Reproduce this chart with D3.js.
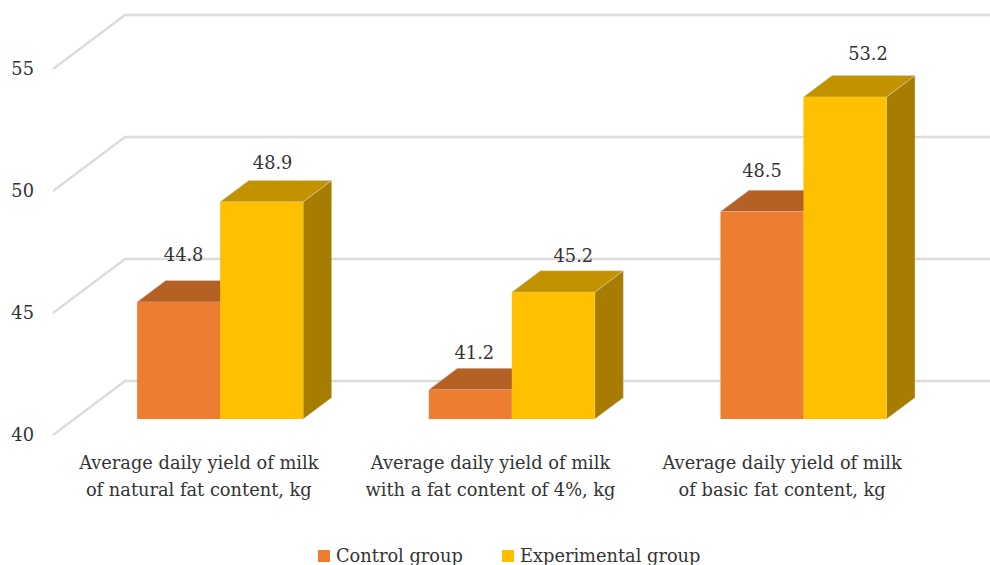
<!DOCTYPE html>
<html>
<head>
<meta charset="utf-8">
<script src="https://cdn.jsdelivr.net/npm/d3@7/dist/d3.min.js"></script>
<style>
  html, body { margin: 0; background: #fff; }
  svg { display: block; }
  text { font-family: "DejaVu Serif", "Liberation Serif", serif; fill: #333; }
  .bar-edge { stroke: #D9D9D9; stroke-width: 0.8; stroke-opacity: 0.55; }
</style>
</head>
<body>
<svg id="chart" width="990" height="565"></svg>
<script>
// Milk yield by group, kg
const categories = [
  ["Average daily yield of milk", "of natural fat content, kg"],
  ["Average daily yield of milk", "with a fat content of 4%, kg"],
  ["Average daily yield of milk", "of basic fat content, kg"]
];
const seriesNames = ["Control group", "Experimental group"];
const controlValues = [44.8, 41.2, 48.5];
const experimentalValues = [48.9, 45.2, 53.2];
const yTicks = [40, 45, 50, 55];

const fontSize = 17.8;
const width = 990, height = 565;
const floorY = 435, perValue = 24.4;
const depth = { x: 72, y: -54 };        // oblique offset from front plane to back wall
const barDepth = { near: 0.296, far: 0.692 }; // where bars sit inside that depth

const palette = [
  { front: "#ED7D31", top: "#B56024", side: "#A85820" },
  { front: "#FFC000", top: "#C29200", side: "#A67D00" }
];

// Hand-placed value labels: shift from the centre of each bar's front edge
const labelShift = [
  [{ dx: 5, dy: -20 }, { dx: 11, dy: -11 }],
  [{ dx: 4, dy: -9 }, { dx: 20, dy: -9 }],
  [{ dx: 0, dy: -13 }, { dx: 23, dy: -16 }]
];

const svg = d3.select("#chart");

const x = d3.scaleBand().domain(d3.range(categories.length)).range([53, 928]);
const xInner = d3.scaleBand().domain([0, 1]).range([0, x.bandwidth()]).paddingOuter(0.757);
const y = d3.scaleLinear().domain([40, 55]).range([floorY, floorY - 15 * perValue]);

// Oblique projection: t is 0 on the front plane and 1 on the back wall
const project = (px, py, t) => [px + depth.x * t, py + depth.y * t];
const poly = pts => pts.map(p => p.join(",")).join(" ");

// Gridlines: a diagonal on the side wall and a horizontal line along the back
const grid = svg.append("g");
grid.selectAll("polyline").data(yTicks).join("polyline")
  .attr("points", d => poly([[53, y(d)], project(53, y(d), 1), [width + 20, y(d) + depth.y]]))
  .attr("fill", "none")
  .attr("stroke", "#DCDCDC")
  .attr("stroke-width", 2.4);

// Value axis labels
const axis = d3.axisLeft(y).tickValues(yTicks).tickSize(0).tickPadding(19).tickFormat(d3.format("d"));
const axisG = svg.append("g").attr("transform", "translate(53,0)").call(axis);
axisG.attr("font-family", null).attr("font-size", null);
axisG.select(".domain").remove();
axisG.selectAll("text").attr("font-size", fontSize).attr("fill", null);

// Bars
const rows = categories.map((c, i) => [controlValues[i], experimentalValues[i]]);
const groups = svg.selectAll("g.group").data(rows).join("g")
  .attr("class", "group");

groups.each(function (vals, i) {
  const g = d3.select(this);
  vals.forEach((v, s) => {
    const x0 = x(i) + xInner(s), x1 = x0 + xInner.bandwidth();
    const base = y(40), top = y(v);
    const [fx0, fyTop] = project(x0, top, barDepth.near);
    const [fx1] = project(x1, top, barDepth.near);
    const [, fyBase] = project(x0, base, barDepth.near);
    const [bx0, byTop] = project(x0, top, barDepth.far);
    const [bx1] = project(x1, top, barDepth.far);
    const [, byBase] = project(x1, base, barDepth.far);
    const c = palette[s];

    g.append("polygon")
      .attr("class", "bar-edge")
      .attr("points", poly([[fx1, fyTop], [bx1, byTop], [bx1, byBase], [fx1, fyBase]]))
      .attr("fill", c.side);
    g.append("polygon")
      .attr("class", "bar-edge")
      .attr("points", poly([[fx0, fyTop], [bx0, byTop], [bx1, byTop], [fx1, fyTop]]))
      .attr("fill", c.top);
    g.append("rect")
      .attr("x", fx0).attr("y", fyTop)
      .attr("width", fx1 - fx0).attr("height", fyBase - fyTop)
      .attr("fill", c.front);
  });
});

// Value labels sit above the bars
groups.each(function (vals, i) {
  const g = d3.select(this);
  vals.forEach((v, s) => {
    const cx = x(i) + xInner(s) + xInner.bandwidth() / 2 + depth.x * barDepth.near;
    const backTop = y(v) + depth.y * barDepth.far;
    g.append("text")
      .attr("x", cx + labelShift[i][s].dx)
      .attr("y", backTop + labelShift[i][s].dy)
      .attr("text-anchor", "middle")
      .attr("font-size", fontSize)
      .text(d3.format(".1f")(v));
  });
});

// Two-line category labels
const catLabels = svg.selectAll("text.cat").data(categories).join("text")
  .attr("class", "cat")
  .attr("text-anchor", "middle")
  .attr("font-size", fontSize);
catLabels.selectAll("tspan").data((d, i) => d.map(line => ({ line, i }))).join("tspan")
  .attr("x", d => x(d.i) + x.bandwidth() / 2)
  .attr("y", (d, j) => 469 + j * 27)
  .text(d => d.line);

// Legend
const legendX = [318, 502];
const legend = svg.selectAll("g.legend").data(seriesNames).join("g")
  .attr("class", "legend")
  .attr("transform", (d, i) => `translate(${legendX[i]},550)`);
legend.append("rect").attr("width", 12).attr("height", 12)
  .attr("fill", (d, i) => palette[i].front);
legend.append("text").attr("x", 18).attr("y", 12).attr("font-size", fontSize).text(d => d);
</script>
</body>
</html>
